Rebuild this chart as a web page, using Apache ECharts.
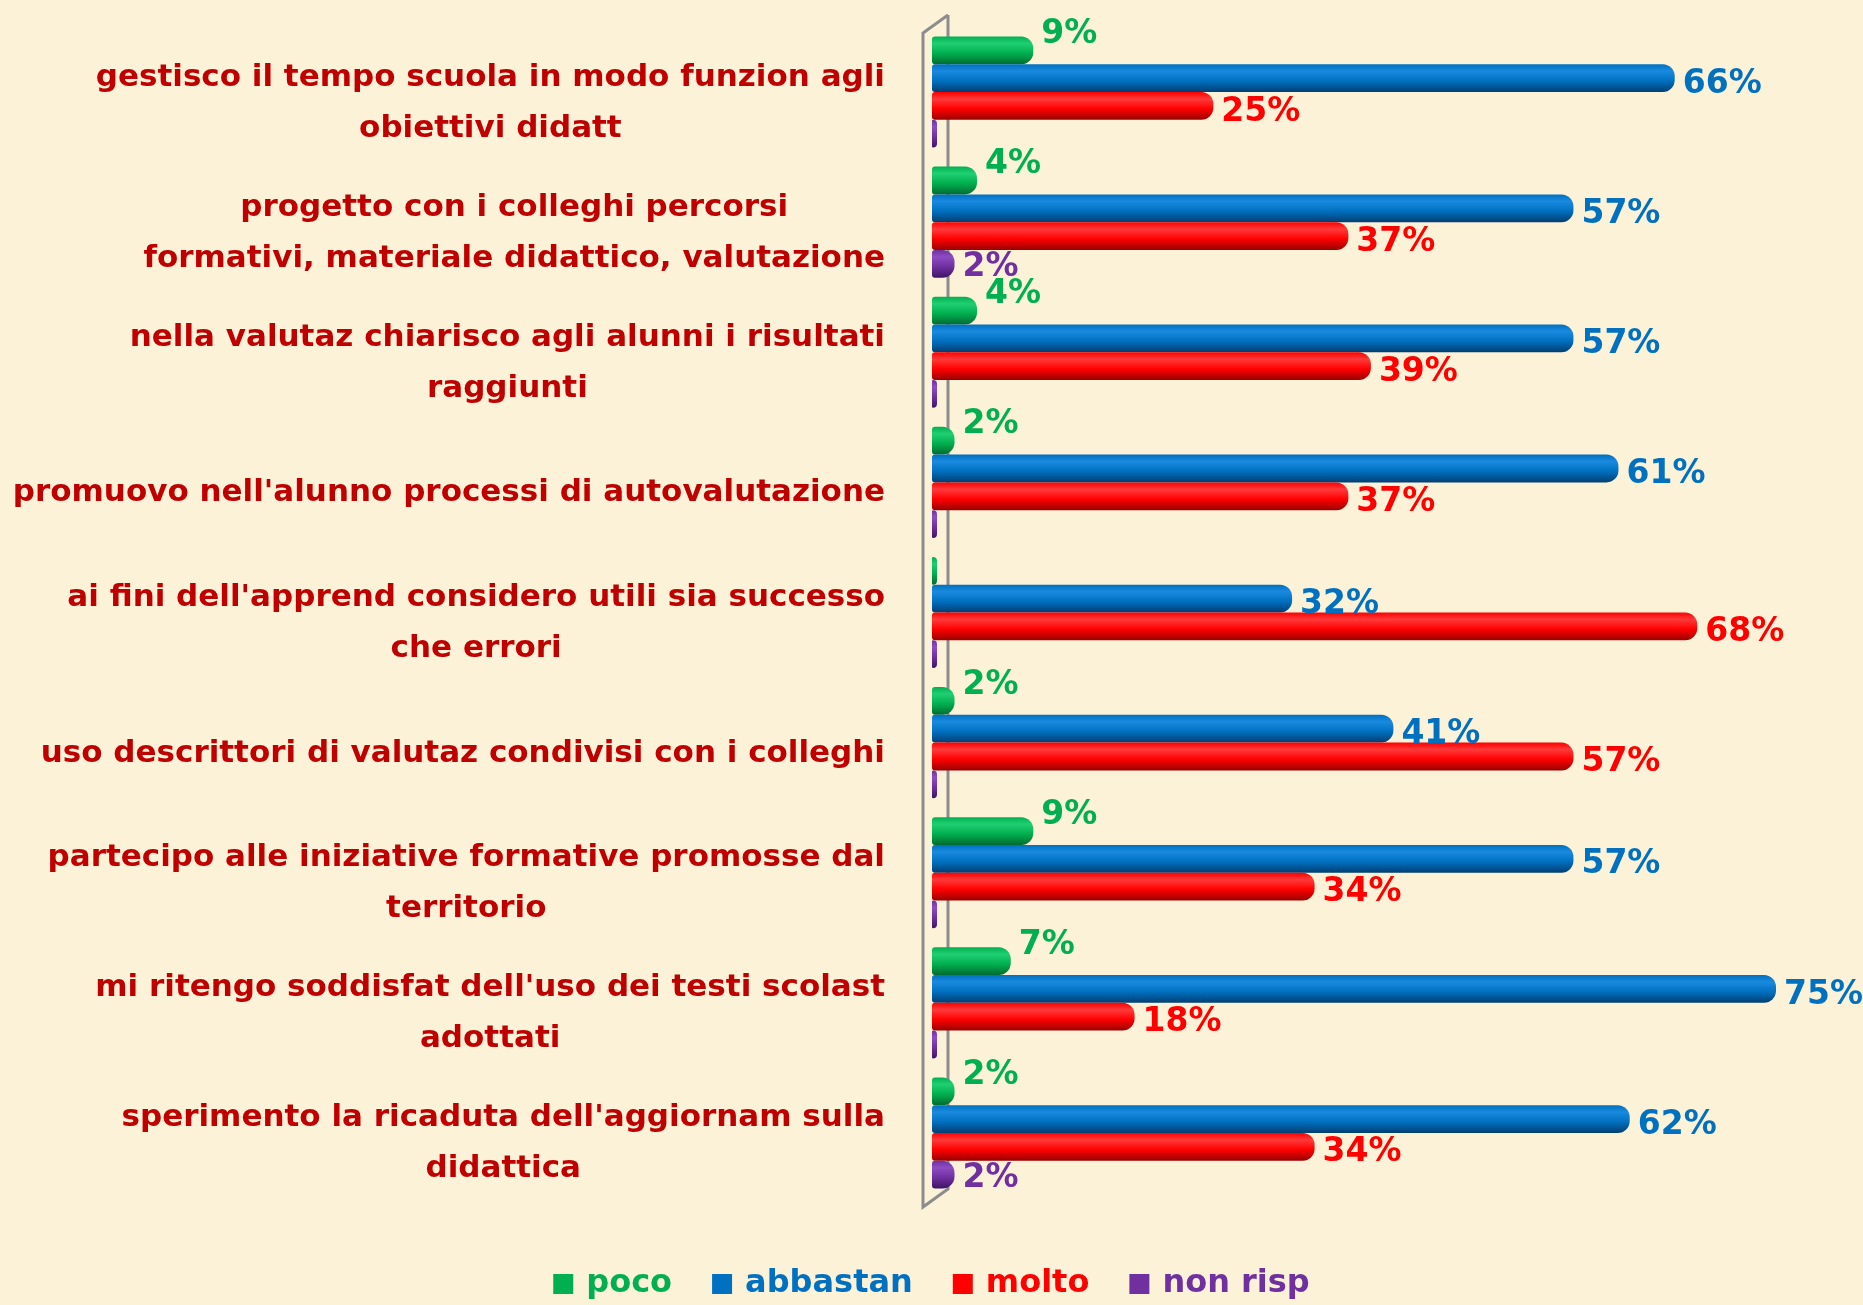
<!DOCTYPE html>
<html>
<head>
<meta charset="utf-8">
<script src="https://cdn.jsdelivr.net/npm/echarts@6/dist/echarts.min.js"></script>
<style>
  html, body { margin: 0; padding: 0; background: #fcf2d8; }
  #chart { width: 1863px; height: 1305px; }
</style>
</head>
<body>
<div id="chart"></div>
<script>
// domande (dall'alto in basso)
var categories = [
    "gestisco il tempo scuola in modo funzion agli\nobiettivi didatt",
    "progetto con i colleghi percorsi\nformativi, materiale didattico, valutazione",
    "nella valutaz chiarisco agli alunni i risultati\nraggiunti",
    "promuovo nell'alunno processi di autovalutazione",
    "ai fini dell'apprend considero utili sia successo\nche errori",
    "uso descrittori di valutaz condivisi con i colleghi",
    "partecipo alle iniziative formative promosse dal\nterritorio",
    "mi ritengo soddisfat dell'uso dei testi scolast\nadottati",
    "sperimento la ricaduta dell'aggiornam sulla\ndidattica"
];

var seriesNames = ["poco", "abbastan", "molto", "non risp"];

// percentuali
var poco     = [9, 4, 4, 2, 0, 2, 9, 7, 2];
var abbastan = [66, 57, 57, 61, 32, 41, 57, 75, 62];
var molto    = [25, 37, 39, 37, 68, 57, 34, 18, 34];
var nonRisp  = [0, 2, 0, 0, 0, 0, 0, 0, 2];

var FONT = "'DejaVu Sans', sans-serif";

// colori: [chiaro, base, scuro]
var palette = [
    ["#1fcf72", "#00b050", "#006b30"],
    ["#1a8ae0", "#0070c0", "#003f72"],
    ["#ff3a3a", "#ff0000", "#990000"],
    ["#8d4cc2", "#7030a0", "#3f1466"]
];
var labelOffsets = [[0, -16], [0, 6], [0, 6], [0, 4]];

function cylinder(c) {
    return new echarts.graphic.LinearGradient(0, 0, 0, 1, [
        { offset: 0, color: c[1] },
        { offset: 0.25, color: c[0] },
        { offset: 0.6, color: c[1] },
        { offset: 1, color: c[2] }
    ]);
}

var values = [poco, abbastan, molto, nonRisp];

var series = values.map(function (data, i) {
    return {
        name: seriesNames[i],
        type: "bar",
        data: data,
        barGap: "0%",
        barCategoryGap: "14.6%",
        barMinHeight: 5,
        itemStyle: {
            color: cylinder(palette[i]),
            borderRadius: [3, 12, 12, 3]
        },
        label: {
            show: true,
            position: "right",
            distance: 8,
            offset: labelOffsets[i],
            color: palette[i][1],
            fontFamily: FONT,
            fontWeight: "bold",
            fontSize: 33,
            formatter: function (p) { return p.value ? p.value + "%" : ""; }
        }
    };
});

var gridLeft = 932, gridTop = 27, gridBottom = 107;

var chart = echarts.init(document.getElementById("chart"));

chart.setOption({
    backgroundColor: "#fcf2d8",
    animation: false,
    grid: { left: gridLeft, right: 87, top: gridTop, bottom: gridBottom },
    xAxis: { type: "value", min: 0, max: 75, show: false },
    yAxis: {
        type: "category",
        inverse: true,
        data: categories,
        axisLine: { show: false },
        axisTick: { show: false },
        splitLine: { show: false },
        axisLabel: {
            margin: 47,
            padding: [22, 0, 0, 0],
            formatter: function (v) {
                return v.split("\n").map(function (l) { return "{c|" + l + "}"; }).join("\n");
            },
            rich: {
                c: {
                    align: "center",
                    color: "#c00000",
                    fontFamily: FONT,
                    fontWeight: "bold",
                    fontSize: 31,
                    lineHeight: 51
                }
            }
        }
    },
    legend: {
        top: 1263,
        left: "center",
        icon: "rect",
        itemWidth: 20,
        itemHeight: 20,
        itemGap: 40,
        textStyle: { fontFamily: FONT, fontWeight: "bold", fontSize: 32, padding: [0, 0, 0, 8] },
        data: seriesNames.map(function (n, i) {
            return { name: n, itemStyle: { color: palette[i][1] }, textStyle: { color: palette[i][1] } };
        })
    },
    // parete 3D dell'asse
    graphic: [
        {
            type: "polyline",
            z: 0,
            shape: { points: [[948, 15], [923, 33], [923, 1207], [948, 1189], [948, 15]] },
            style: { stroke: "#8c8c8c", lineWidth: 3, fill: null }
        }
    ],
    series: series
});
</script>
</body>
</html>
